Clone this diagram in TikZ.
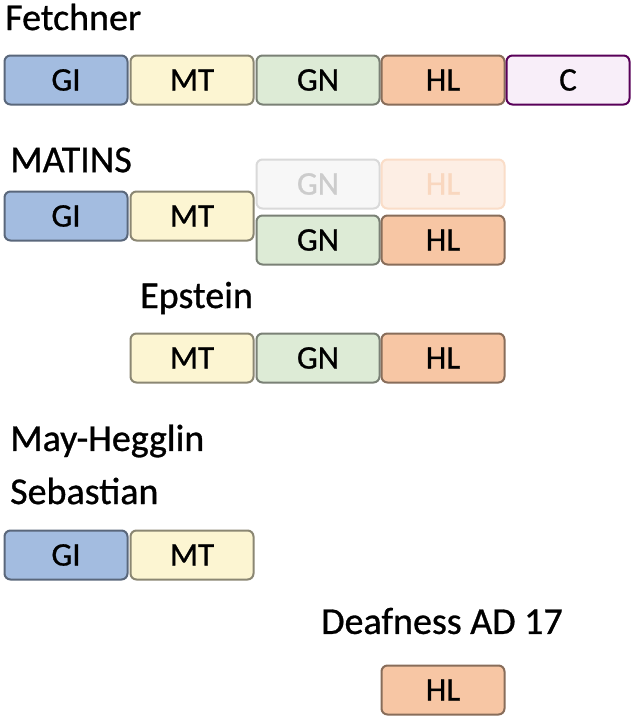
\documentclass[tikz,border=0pt]{standalone}
\usepackage{fontspec}
\setmainfont{Carlito}[UprightFeatures={FakeBold=0.8}]
\begin{document}
\begin{tikzpicture}[x=1pt,y=-1pt,
 dom/.style={draw=#1!55!black,fill=#1,line width=2pt,rounded corners=6pt,minimum width=123pt,minimum height=49pt,inner sep=0pt,font=\fontsize{33}{33}\selectfont,text=black},
 ttl/.style={anchor=west,inner sep=0pt,font=\fontsize{38}{38}\selectfont}]
\definecolor{cGI}{HTML}{A3BCE0}
\definecolor{cMT}{HTML}{FCF5D2}
\definecolor{cGN}{HTML}{DDEBD6}
\definecolor{cHL}{HTML}{F7C6A4}
\definecolor{cC}{HTML}{F8EEF9}
\useasboundingbox[fill=white] (0,0) rectangle (633,716);
\node[ttl] (t1) at (5,17) {Fetchner};
\node[dom=cGI] (f1) at (66,80) {GI};
\node[dom=cMT] (f2) at (192,80) {MT};
\node[dom=cGN] (f3) at (318,80) {GN};
\node[dom=cHL] (f4) at (443,80) {HL};
\node[dom=cC,draw=violet!70!black] (f5) at (568,80) {C};
\node[ttl] (t2) at (10,160) {MATINS};
\node[dom=cGI] (m1) at (66,216) {GI};
\node[dom=cMT] (m2) at (192,216) {MT};
\node[dom=cGN,fill=black!3,draw=black!15,text=black!20] (m3) at (318,184) {GN};
\node[dom=cHL,fill=cHL!30,draw=cHL!60,text=cHL!70] (m4) at (443,184) {HL};
\node[dom=cGN] (m5) at (318,240) {GN};
\node[dom=cHL] (m6) at (443,240) {HL};
\node[ttl] (t3) at (140,298) {Epstein};
\node[dom=cMT] (e1) at (192,358) {MT};
\node[dom=cGN] (e2) at (318,358) {GN};
\node[dom=cHL] (e3) at (443,358) {HL};
\node[ttl] (t4) at (10,441) {May-Hegglin};
\node[ttl] (t5) at (10,491) {Sebastian};
\node[dom=cGI] (s1) at (66,555) {GI};
\node[dom=cMT] (s2) at (192,555) {MT};
\node[ttl] (t6) at (321,621) {Deafness AD 17};
\node[dom=cHL] (d1) at (443,690) {HL};
\end{tikzpicture}
\end{document}
